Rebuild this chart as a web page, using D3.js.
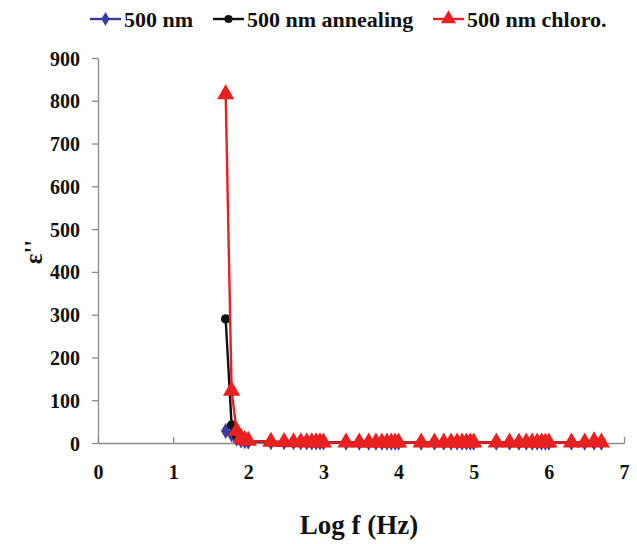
<!DOCTYPE html>
<html>
<head>
<meta charset="utf-8">
<script src="https://cdn.jsdelivr.net/npm/d3@7"></script>
<style>
  body { margin: 0; background: #fff; }
  svg text { font-family: "Liberation Serif", "Times New Roman", serif; font-weight: bold; fill: #111; }
</style>
</head>
<body>
<div id="app"></div>
<script>
// frequencies in Hz (measurement points)
const freqHz = [50, 60, 70, 80, 90,
  100, 200, 300, 400, 500, 600, 700, 800, 900,
  1000, 2000, 3000, 4000, 5000, 6000, 7000, 8000, 9000,
  10000, 20000, 30000, 40000, 50000, 60000, 70000, 80000, 90000,
  100000, 200000, 300000, 400000, 500000, 600000, 700000, 800000, 900000,
  1000000, 2000000, 3000000, 4000000, 5000000]

// ε'' values
const eps500 = [28, 20, 10, 6, 4,
  3, 2, 1.8, 1.6, 1.5, 1.4, 1.3, 1.2, 1.2,
  1.1, 1, 1, 1, 1, 1, 1, 1, 1,
  1, 1, 1, 1, 1, 1, 1, 1, 1,
  1, 1, 1, 1, 1, 1, 1, 1, 1,
  1, 1, 1, 1, 1]
const eps500Ann = [290, 42, 18, 10, 7,
  5, 3, 2.5, 2.2, 2, 2, 1.9, 1.8, 1.8,
  1.7, 1.6, 1.5, 1.5, 1.5, 1.5, 1.5, 1.5, 1.5,
  1.5, 1.5, 1.5, 1.5, 1.5, 1.5, 1.5, 1.5, 1.5,
  1.5, 1.5, 1.5, 1.5, 1.5, 1.5, 1.5, 1.5, 1.5,
  1.5, 1.5, 1.5, 1.5, 1.5]
const eps500Chl = [815, 122, 28, 12, 7,
  5, 3, 2.5, 2, 1.8, 1.7, 1.6, 1.5, 1.5,
  1.4, 1.3, 1.2, 1.2, 1.2, 1.2, 1.2, 1.2, 1.2,
  1.2, 1.2, 1.2, 1.2, 1.2, 1.2, 1.2, 1.2, 1.2,
  1.2, 1.2, 1.2, 1.2, 1.2, 1.2, 1.2, 1.2, 1.2,
  1.2, 1.2, 1.2, 4, 1.2]

const xTicks = [0, 1, 2, 3, 4, 5, 6, 7]
const yTicks = [0, 100, 200, 300, 400, 500, 600, 700, 800, 900]
const seriesNames = ['500 nm', '500 nm annealing', '500 nm chloro.']

const W = 637, H = 544
const svg = d3.select('#app').append('svg').attr('width', W).attr('height', H)

let x = d3.scaleLinear().domain([0, 7]).range([98, 624])
let y = d3.scaleLinear().domain([0, 900]).range([443, 58])

// axes
let gx = svg.append('g').attr('transform', `translate(0,${y(0)})`)
  .call(d3.axisBottom(x).tickValues(xTicks).tickFormat(d3.format('d')).tickSizeInner(-6).tickSizeOuter(0).tickPadding(22))
let gy = svg.append('g').attr('transform', `translate(${x(0)},0)`)
  .call(d3.axisLeft(y).tickValues(yTicks).tickSize(6).tickSizeOuter(0).tickPadding(12))
svg.selectAll('.domain, .tick line').attr('stroke', '#8a8a8a').attr('stroke-width', 1.3)
gx.selectAll('text').style('font-size', '20px').attr('fill', '#111')
gy.selectAll('text').style('font-size', '20px').attr('fill', '#111').attr('dy', '0.35em')

// axis titles
svg.append('text').attr('x', 359).attr('y', 534).attr('text-anchor', 'middle')
  .style('font-size', '27px').text('Log f (Hz)')
svg.append('text').attr('transform', 'translate(42,252) rotate(-90)').attr('text-anchor', 'middle')
  .style('font-size', '25px').text('ε\'\'')

const lx = freqHz.map(f => Math.log10(f))
const series = [
  { name: seriesNames[0], vals: eps500, color: '#3a3aa0', shape: d3.symbolDiamond, size: 75 },
  { name: seriesNames[1], vals: eps500Ann, color: '#111111', shape: d3.symbolCircle, size: 70 },
  { name: seriesNames[2], vals: eps500Chl, color: '#e8201f', shape: d3.symbolTriangle, size: 130 }
]

let line = d3.line().x(d => x(d[0])).y(d => y(d[1]))
series.forEach(s => {
  let pts = lx.map((v, i) => [v, s.vals[i]])
  svg.append('path').datum(pts).attr('d', line)
    .attr('fill', 'none').attr('stroke', s.color).attr('stroke-width', 2.4)
  svg.append('g').selectAll('path').data(pts).enter().append('path')
    .attr('transform', d => `translate(${x(d[0])},${y(d[1])})`)
    .attr('d', d3.symbol().type(s.shape).size(s.size))
    .attr('fill', s.color)
})

// legend
let legendX = [90, 213, 433]
series.forEach((s, i) => {
  let g = svg.append('g').attr('transform', `translate(${legendX[i]},19)`)
  g.append('line').attr('x1', 0).attr('x2', 31).attr('stroke', s.color).attr('stroke-width', 2.4)
  g.append('path').attr('transform', 'translate(15.5,0)')
    .attr('d', d3.symbol().type(s.shape).size(s.size * 0.75)).attr('fill', s.color)
  g.append('text').attr('x', 34).attr('dy', '0.35em').style('font-size', '22px').text(s.name)
})
</script>
</body>
</html>
